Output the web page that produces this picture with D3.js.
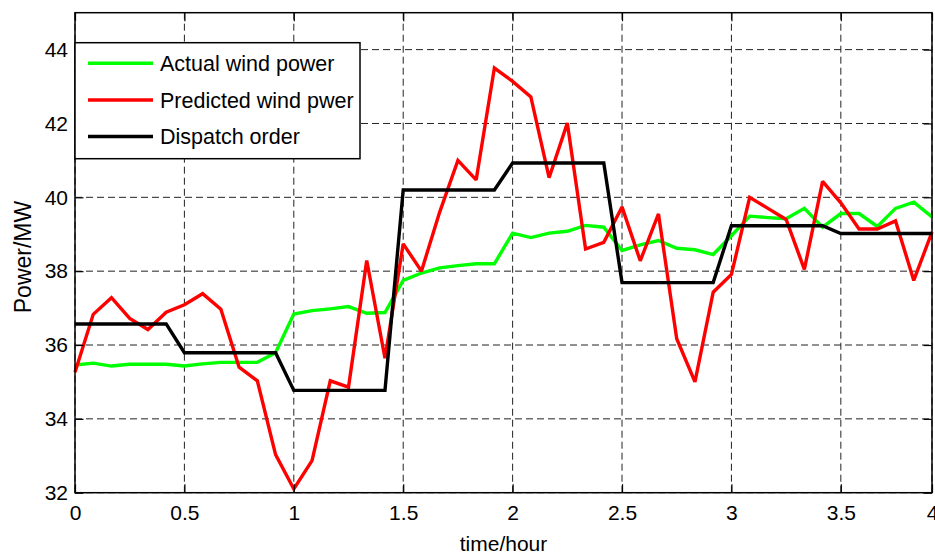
<!DOCTYPE html>
<html>
<head>
<meta charset="utf-8">
<script src="https://cdn.jsdelivr.net/npm/d3@7"></script>
<style>
  body { margin: 0; background: #fff; }
  text { font-family: "Liberation Sans", Arial, Helvetica, sans-serif; fill: #000; }
</style>
</head>
<body>
<svg id="chart" width="935" height="556"></svg>
<script>
// Sampling interval of the series: 5 minutes, expressed in hours.
const stepHours = 1 / 12;

// Measured output of the wind farm (MW).
const actualPower = [
  35.46, 35.51, 35.43, 35.48, 35.48, 35.48, 35.43, 35.49, 35.53, 35.53, 35.53, 35.79,
  36.84, 36.93, 36.98, 37.04, 36.86, 36.88, 37.75, 37.95, 38.09, 38.15, 38.20, 38.20,
  39.03, 38.91, 39.03, 39.08, 39.24, 39.19, 38.56, 38.71, 38.83, 38.62, 38.58, 38.45,
  38.96, 39.49, 39.45, 39.42, 39.70, 39.19, 39.56, 39.56, 39.21, 39.70, 39.87, 39.47
];

// Forecast output (MW).
const predictedPower = [
  35.26, 36.83, 37.28, 36.72, 36.42, 36.89, 37.09, 37.39, 36.97, 35.40, 35.03, 33.03,
  32.10, 32.87, 35.03, 34.86, 38.29, 35.64, 38.74, 38.00, 39.60, 41.00, 40.47, 43.50,
  43.14, 42.72, 40.53, 42.01, 38.60, 38.78, 39.74, 38.28, 39.55, 36.17, 35.00, 37.43,
  37.91, 40.00, 39.70, 39.40, 38.05, 40.43, 39.85, 39.14, 39.14, 39.36, 37.75, 39.06
];

// Dispatch schedule, held constant over each half hour (MW).
const dispatchOrder = [
  36.57, 36.57, 36.57, 36.57, 36.57, 36.57, 35.79, 35.79, 35.79, 35.79, 35.79, 35.79,
  34.77, 34.77, 34.77, 34.77, 34.77, 34.77, 40.20, 40.20, 40.20, 40.20, 40.20, 40.20,
  40.93, 40.93, 40.93, 40.93, 40.93, 40.93, 37.69, 37.69, 37.69, 37.69, 37.69, 37.69,
  39.23, 39.23, 39.23, 39.23, 39.23, 39.23, 39.02, 39.02, 39.02, 39.02, 39.02, 39.02
];

const seriesNames  = ["Actual wind power", "Predicted wind pwer", "Dispatch order"];
const seriesColors = ["#00ff00", "#ff0000", "#000000"];

// The last tick sits on the final sample and carries the label "4".
const xTickValues = [0, 0.5, 1, 1.5, 2, 2.5, 3, 3.5, 47 / 12];
const xTickLabels = ["0", "0.5", "1", "1.5", "2", "2.5", "3", "3.5", "4"];
const yTickValues = [32, 34, 36, 38, 40, 42, 44];
const yDomain = [32, 45];

const xTitle = "time/hour";
const yTitle = "Power/MW";

// ---------------------------------------------------------------------------
const svg = d3.select("#chart");
const plot = { left: 75, right: 932, top: 12.7, bottom: 492.7 };
const fontSize = 21;
const tickLen = 8.5;

const hours = actualPower.map((_, i) => i * stepHours);

const x = d3.scaleLinear().domain([0, hours[hours.length - 1]]).range([plot.left, plot.right]);
const y = d3.scaleLinear().domain(yDomain).range([plot.bottom, plot.top]);

// Dashed grid
const grid = svg.append("g")
  .attr("stroke", "#222")
  .attr("stroke-width", 1)
  .attr("stroke-dasharray", "7,4")
  .attr("fill", "none");
grid.selectAll("line.vx").data(xTickValues).join("line")
  .attr("x1", d => x(d)).attr("x2", d => x(d))
  .attr("y1", plot.top).attr("y2", plot.bottom);
grid.selectAll("line.hy").data(yTickValues).join("line")
  .attr("x1", plot.left).attr("x2", plot.right)
  .attr("y1", d => y(d)).attr("y2", d => y(d));

// Series
const series = [actualPower, predictedPower, dispatchOrder];
const line = d3.line().x((d, i) => x(hours[i])).y(d => y(d));
svg.append("g").selectAll("path").data(series).join("path")
  .attr("d", d => line(d))
  .attr("fill", "none")
  .attr("stroke", (d, i) => seriesColors[i])
  .attr("stroke-width", 3.4)
  .attr("stroke-linejoin", "miter")
  .attr("stroke-miterlimit", 2);

// Axes with inward ticks on all four sides
function styleAxis(g) {
  g.select(".domain").remove();
  g.selectAll(".tick line").attr("stroke", "#000").attr("stroke-width", 1.2);
  g.selectAll(".tick text")
    .attr("fill", "#000")
    .style("font-family", '"Liberation Sans", Arial, sans-serif')
    .style("font-size", fontSize + "px");
}

svg.append("g")
  .attr("transform", `translate(0,${plot.bottom})`)
  .call(d3.axisBottom(x).tickValues(xTickValues)
    .tickFormat((d, i) => xTickLabels[i])
    .tickSizeInner(-tickLen).tickSizeOuter(0).tickPadding(12))
  .call(styleAxis);

svg.append("g")
  .attr("transform", `translate(0,${plot.top})`)
  .call(d3.axisTop(x).tickValues(xTickValues).tickFormat("")
    .tickSizeInner(-tickLen).tickSizeOuter(0))
  .call(styleAxis);

svg.append("g")
  .attr("transform", `translate(${plot.left},0)`)
  .call(d3.axisLeft(y).tickValues(yTickValues).tickFormat(d3.format("d"))
    .tickSizeInner(-tickLen).tickSizeOuter(0).tickPadding(7))
  .call(styleAxis);

svg.append("g")
  .attr("transform", `translate(${plot.right},0)`)
  .call(d3.axisRight(y).tickValues(yTickValues).tickFormat("")
    .tickSizeInner(-tickLen).tickSizeOuter(0))
  .call(styleAxis);

// Plot frame
svg.append("rect")
  .attr("x", plot.left).attr("y", plot.top)
  .attr("width", plot.right - plot.left).attr("height", plot.bottom - plot.top)
  .attr("fill", "none").attr("stroke", "#000").attr("stroke-width", 1.5);

// Axis titles
svg.append("text")
  .attr("x", (plot.left + plot.right) / 2).attr("y", 551)
  .attr("text-anchor", "middle")
  .style("font-size", fontSize + "px")
  .text(xTitle);

svg.append("text")
  .attr("transform", `translate(31,257) rotate(-90)`)
  .attr("text-anchor", "middle")
  .style("font-size", "23px")
  .text(yTitle);

// Legend
const legend = { x: plot.left, y: 42.7, w: 285, h: 116, rowY: [63.3, 100, 136.5] };
const lg = svg.append("g");
lg.append("rect")
  .attr("x", legend.x).attr("y", legend.y)
  .attr("width", legend.w).attr("height", legend.h)
  .attr("fill", "#fff").attr("stroke", "#000").attr("stroke-width", 1.5);
const rows = lg.selectAll("g.row").data(seriesNames).join("g")
  .attr("transform", (d, i) => `translate(0,${legend.rowY[i]})`);
rows.append("line")
  .attr("x1", 88).attr("x2", 153).attr("y1", 0).attr("y2", 0)
  .attr("stroke", (d, i) => seriesColors[i]).attr("stroke-width", 3.4);
rows.append("text")
  .attr("x", 160).attr("dy", "0.35em")
  .style("font-size", "21.5px")
  .text(d => d);
</script>
</body>
</html>
